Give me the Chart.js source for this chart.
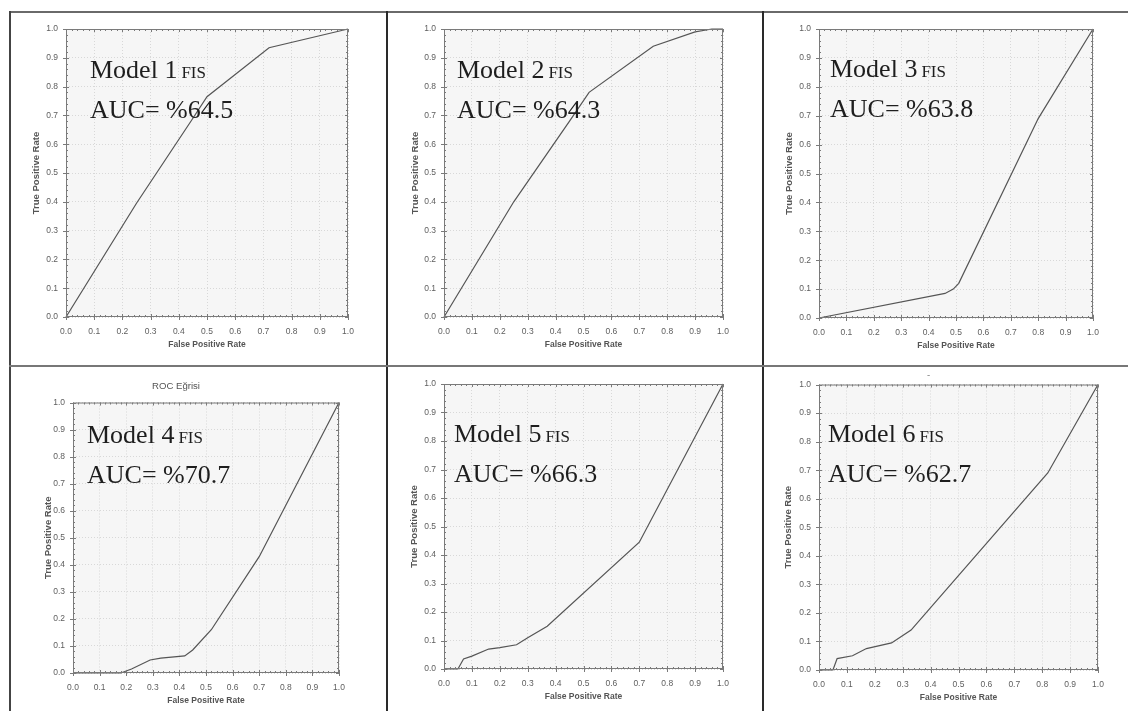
<!DOCTYPE html>
<html>
<head>
<meta charset="utf-8">
<script src="https://cdn.jsdelivr.net/npm/chart.js@4.4.1/dist/chart.umd.min.js"></script>
<style>
  html, body { margin:0; padding:0; background:#fff; }
  body { width:1128px; height:711px; position:relative; overflow:hidden; }
  canvas { position:absolute; }
  .rule { position:absolute; z-index:5; }
</style>
</head>
<body>
<div class="rule" style="left:9px;top:11px;width:1119px;height:2px;background:#6a6a6a"></div>
<div class="rule" style="left:9px;top:11px;width:2px;height:700px;background:#444"></div>
<div class="rule" style="left:386px;top:11px;width:2px;height:700px;background:#2a2a2a"></div>
<div class="rule" style="left:762px;top:11px;width:2px;height:700px;background:#2a2a2a"></div>
<div class="rule" style="left:9px;top:365px;width:1119px;height:2px;background:#777"></div>

<script>
// ROC curves
const modelNames = ['Model 1', 'Model 2', 'Model 3', 'Model 4', 'Model 5', 'Model 6'];
const aucLabels = ['AUC= %64.5', 'AUC= %64.3', 'AUC= %63.8', 'AUC= %70.7', 'AUC= %66.3', 'AUC= %62.7'];
const chartTitles = ['', '', '', 'ROC Eğrisi', '', '-'];
const tickLabels = ['0.0','0.1','0.2','0.3','0.4','0.5','0.6','0.7','0.8','0.9','1.0'];

const fpr1 = [0, 0.25, 0.45, 0.5, 0.72, 1];
const tpr1 = [0, 0.395, 0.69, 0.765, 0.935, 1];
const fpr2 = [0, 0.25, 0.45, 0.52, 0.75, 0.9, 0.96, 1];
const tpr2 = [0, 0.4, 0.68, 0.78, 0.94, 0.99, 1, 1];
const fpr3 = [0, 0.46, 0.49, 0.51, 0.8, 1];
const tpr3 = [0, 0.085, 0.1, 0.12, 0.69, 1];
const fpr4 = [0, 0.18, 0.22, 0.29, 0.33, 0.42, 0.45, 0.52, 0.7, 1];
const tpr4 = [0, 0, 0.015, 0.048, 0.055, 0.063, 0.085, 0.16, 0.43, 1];
const fpr5 = [0, 0.05, 0.07, 0.1, 0.16, 0.2, 0.26, 0.3, 0.37, 0.7, 1];
const tpr5 = [0, 0, 0.035, 0.045, 0.07, 0.075, 0.085, 0.11, 0.15, 0.445, 1];
const fpr6 = [0, 0.05, 0.065, 0.12, 0.17, 0.26, 0.33, 0.82, 1];
const tpr6 = [0, 0, 0.04, 0.05, 0.075, 0.095, 0.14, 0.69, 1];

const fprs = [fpr1, fpr2, fpr3, fpr4, fpr5, fpr6];
const tprs = [tpr1, tpr2, tpr3, tpr4, tpr5, tpr6];

// plot boxes on the page: left, top, right, bottom
const plotBoxes = [
  [66, 29, 348, 317], [444, 29, 723, 317], [819, 29, 1093, 318],
  [73, 403, 339, 673], [444, 384, 723, 669], [819, 385, 1098, 670]
];
// where "Model n" sits inside the plot (x from left, baseline from top)
const textAt = [[24, 49], [13, 49], [11, 48], [14, 40], [10, 58], [9, 57]];
const yTitleGap = [30, 29, 30, 25, 30, 31];

const Y_W = 60, X_H = 45, PAD_R = 20;
const sans = 'Arial, "Liberation Sans", sans-serif';
const serif = '"Liberation Serif", "Times New Roman", serif';

const rocFrame = {
  id: 'rocFrame',
  beforeDraw(chart) {
    const {ctx, chartArea: a} = chart;
    ctx.save();
    ctx.fillStyle = '#f6f6f6';
    ctx.fillRect(a.left, a.top, a.right - a.left, a.bottom - a.top);
    ctx.restore();
  },
  afterDatasetsDraw(chart) {
    const {ctx, chartArea: a, scales: {x, y}} = chart;
    ctx.save();
    ctx.strokeStyle = '#7a7a7a';
    ctx.lineWidth = 1;
    ctx.strokeRect(a.left + 0.5, a.top + 0.5, a.right - a.left - 1, a.bottom - a.top - 1);
    ctx.beginPath();
    for (let i = 0; i <= 50; i++) {
      const v = i / 50;
      const major = i % 5 === 0;
      const len = major ? 3 : 2;
      const px = Math.round(x.getPixelForValue(v)) + 0.5;
      const py = Math.round(y.getPixelForValue(v)) + 0.5;
      ctx.moveTo(px, a.bottom - len); ctx.lineTo(px, a.bottom + (major ? 3 : 0));
      ctx.moveTo(px, a.top); ctx.lineTo(px, a.top + len);
      ctx.moveTo(a.left - (major ? 3 : 0), py); ctx.lineTo(a.left + len, py);
      ctx.moveTo(a.right - len, py); ctx.lineTo(a.right, py);
    }
    ctx.stroke();
    ctx.restore();
  },
  afterDraw(chart) {
    const {ctx, chartArea: a} = chart;
    const k = chart.options.plugins.rocFrame.index;
    const tx = a.left + textAt[k][0];
    const ty = a.top + textAt[k][1];
    ctx.save();
    ctx.fillStyle = '#1e1e1e';
    ctx.textBaseline = 'alphabetic';
    ctx.font = '26px ' + serif;
    ctx.fillText(modelNames[k], tx, ty);
    const w = ctx.measureText(modelNames[k]).width;
    ctx.font = '17px ' + serif;
    ctx.fillText('FIS', tx + w + 4, ty);
    ctx.font = '26px ' + serif;
    ctx.fillText(aucLabels[k], tx, ty + 40);
    ctx.restore();
  }
};

function axisOpts(axis, k) {
  const isX = axis === 'x';
  const titleSize = isX ? 8.5 : 9.5;
  return {
    type: 'linear',
    min: 0,
    max: 1,
    afterFit(scale) {
      if (isX) scale.height = X_H; else scale.width = Y_W;
    },
    ticks: {
      stepSize: 0.1,
      autoSkip: false,
      maxRotation: 0,
      padding: isX ? 10 : 8,
      color: '#5e5e5e',
      font: {family: sans, size: 8.5},
      callback: (v, i) => tickLabels[i]
    },
    grid: {
      color: '#d8d8d8',
      lineWidth: 1,
      drawTicks: false
    },
    border: {display: false, dash: [1, 2]},
    title: {
      display: true,
      text: isX ? 'False Positive Rate' : 'True Positive Rate',
      color: '#555',
      font: {family: sans, size: titleSize, weight: 'bold'},
      padding: isX ? {top: 0, bottom: 12} : {top: Y_W - yTitleGap[k] - titleSize * 0.6, bottom: 0}
    }
  };
}

plotBoxes.forEach((box, k) => {
  const [L, T, R, B] = box;
  const hasTitle = chartTitles[k] !== '';
  const tPadBottom = k === 3 ? 10 : 3;
  const topSpace = hasTitle ? 9.6 * 1.2 + 6 + tPadBottom : 20;

  const canvas = document.createElement('canvas');
  canvas.width = (R - L) + Y_W + PAD_R;
  canvas.height = Math.round((B - T) + topSpace + X_H);
  canvas.style.left = (L - Y_W) + 'px';
  canvas.style.top = (T - topSpace) + 'px';
  document.body.appendChild(canvas);

  const points = fprs[k].map((fx, i) => ({x: fx, y: tprs[k][i]}));

  new Chart(canvas.getContext('2d'), {
    type: 'scatter',
    data: {
      datasets: [{
        data: points,
        showLine: true,
        borderColor: '#555',
        borderWidth: 1.2,
        pointRadius: 0,
        tension: 0,
        clip: false
      }]
    },
    options: {
      responsive: false,
      animation: false,
      layout: {padding: {top: hasTitle ? 0 : 20, right: PAD_R, left: 0, bottom: 0}},
      plugins: {
        legend: {display: false},
        tooltip: {enabled: false},
        title: {
          display: hasTitle,
          text: chartTitles[k],
          color: k === 5 ? '#777' : '#555',
          font: {family: sans, size: 9.6, weight: 'normal'},
          padding: {top: 6, bottom: tPadBottom}
        },
        rocFrame: {index: k}
      },
      scales: {
        x: axisOpts('x', k),
        y: axisOpts('y', k)
      }
    },
    plugins: [rocFrame]
  });
});
</script>
</body>
</html>
